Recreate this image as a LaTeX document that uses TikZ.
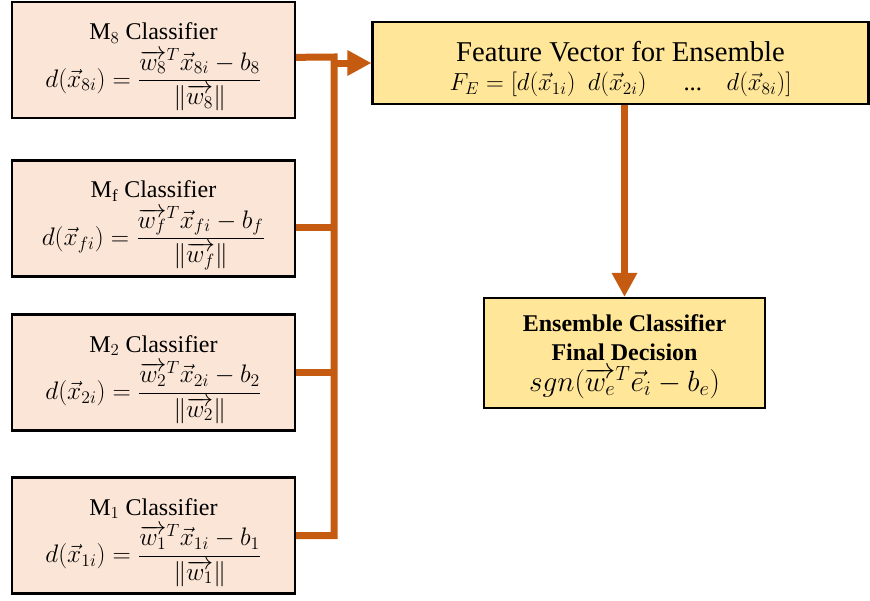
\RequirePackage{fix-cm}
\documentclass[tikz,border=0pt]{standalone}
\usepackage{amsmath}
\usepackage{fontspec}
\setmainfont{Liberation Serif}
\usetikzlibrary{arrows.meta}
\definecolor{peach}{HTML}{FBE5D6}
\definecolor{gold}{HTML}{FFE699}
\definecolor{rust}{HTML}{C55A11}
\newcommand{\eqsz}{\fontsize{19}{24}\selectfont}
\newcommand{\topstrut}{\rule{0pt}{23pt}}
\tikzset{
  clsbox/.style={draw=black, line width=1.6pt, fill=peach, minimum width=283*0.75pt, minimum height=116*0.75pt, align=center, inner sep=0pt, font=\fontsize{18}{22}\selectfont},
  featbox/.style={draw=black, line width=1.6pt, fill=gold, minimum width=496*0.75pt, minimum height=82*0.75pt, align=center, inner sep=0pt},
  ensbox/.style={draw=black, line width=1.6pt, fill=gold, minimum width=281*0.75pt, minimum height=110*0.75pt, align=center, inner sep=0pt, font=\fontsize{18}{22}\selectfont},
  conn/.style={draw=rust, line width=5.25pt, line join=miter},
  tip/.style={-{Triangle[length=18pt, width=18pt]}}
}
\begin{document}
\begin{tikzpicture}[x=0.75pt, y=-0.75pt]
\useasboundingbox (0,0) rectangle (870,600);
\node[clsbox] (m8) at (153.5,60) {\topstrut M$_8$ Classifier\\[3pt] {\eqsz$d(\vec{x}_{8i}) = \dfrac{\overrightarrow{w_8}^{T}\vec{x}_{8i} - b_8}{\|\overrightarrow{w_8}\|}$}};
\node[clsbox] (mf) at (153.5,218.5) {\topstrut M$_{\mathrm{f}}$ Classifier\\[3pt] {\eqsz$d(\vec{x}_{fi}) = \dfrac{\overrightarrow{w_f}^{T}\vec{x}_{fi} - b_f}{\|\overrightarrow{w_f}\|}$}};
\node[clsbox] (m2) at (153.5,372.5) {\topstrut M$_2$ Classifier\\[3pt] {\eqsz$d(\vec{x}_{2i}) = \dfrac{\overrightarrow{w_2}^{T}\vec{x}_{2i} - b_2}{\|\overrightarrow{w_2}\|}$}};
\node[clsbox] (m1) at (153.5,535.5) {\topstrut M$_1$ Classifier\\[3pt] {\eqsz$d(\vec{x}_{1i}) = \dfrac{\overrightarrow{w_1}^{T}\vec{x}_{1i} - b_1}{\|\overrightarrow{w_1}\|}$}};
\node[featbox] (feat) at (620.5,63) {{\fontsize{21.5}{24}\selectfont\rule{0pt}{24pt}Feature Vector for Ensemble}\\[7pt] {\fontsize{18.5}{22}\selectfont $F_E = [d(\vec{x}_{1i})\ \ d(\vec{x}_{2i})\quad\ \ \text{...}\quad d(\vec{x}_{8i})]$}};
\node[ensbox] (ens) at (624.5,353) {\rule{0pt}{18pt}\textbf{Ensemble Classifier}\\ \textbf{Final Decision}\\[1pt] {\fontsize{22}{24}\selectfont $sgn(\overrightarrow{w_e}^{T}\vec{e}_i - b_e)$}};
\coordinate (bt) at (334,57);
\coordinate (bb) at (334,535.5);
\draw[conn] ([yshift=2pt]m8.east) -- (bt) -- (bb) -- (m1.east);
\draw[conn] ([yshift=-7pt]mf.east) -- ([yshift=-7pt]mf.east -| bt);
\draw[conn] (m2.east) -- (m2.east -| bt);
\draw[conn, tip] (feat.west -| bt) -- (feat.west);
\draw[conn, tip] (ens.north |- feat.south) -- (ens.north);
\end{tikzpicture}
\end{document}
